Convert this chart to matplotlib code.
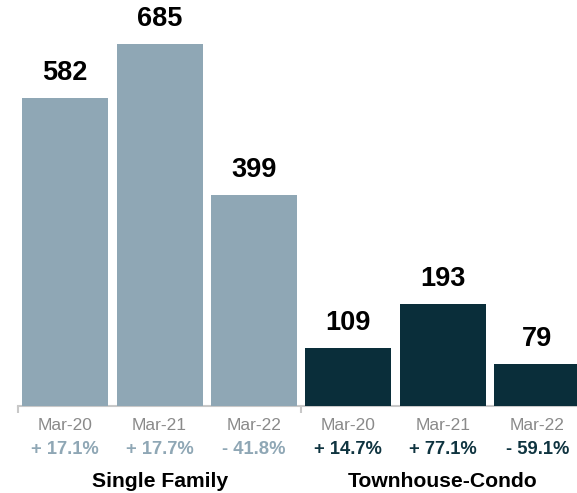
import numpy as np
import matplotlib.pyplot as plt

plt.rcParams['font.family'] = ['Liberation Sans', 'DejaVu Sans']

months = ["Mar-20", "Mar-21", "Mar-22", "Mar-20", "Mar-21", "Mar-22"]
values = [582, 685, 399, 109, 193, 79]
changes = ["+ 17.1%", "+ 17.7%", "- 41.8%", "+ 14.7%", "+ 77.1%", "- 59.1%"]
groups = ["Single Family", "Townhouse-Condo"]

sf_color = "#8FA7B5"
tc_color = "#0A2E3A"
colors = [sf_color] * 3 + [tc_color] * 3
change_colors = ["#8FA7B5"] * 3 + ["#0F3440"] * 3

fig = plt.figure(figsize=(5.77, 4.93), dpi=100)
ax = fig.add_axes([18 / 577, 87 / 493, 566.4 / 577, 406 / 493])

x = np.arange(len(values))
ax.bar(x, values, width=0.91, color=colors, zorder=2)
ax.set_xlim(-0.5, 5.5)
ax.set_ylim(0, 768)

for xi, v in zip(x, values):
    ax.annotate(str(v), xy=(xi, v), xytext=(0, 18), textcoords='offset pixels',
                ha='center', va='baseline', fontsize=19.5, fontweight='bold', color='black')

for xi, m, c, cc in zip(x, months, changes, change_colors):
    ax.annotate(m, xy=(xi, 0), xycoords=('data', 'axes fraction'), xytext=(0, -24),
                textcoords='offset pixels', ha='center', va='baseline',
                fontsize=12.5, color='#8a8a8a')
    ax.annotate(c, xy=(xi, 0), xycoords=('data', 'axes fraction'), xytext=(0, -48),
                textcoords='offset pixels', ha='center', va='baseline',
                fontsize=13.2, fontweight='bold', color=cc)

for gx, g in zip([1, 4], groups):
    ax.annotate(g, xy=(gx, 0), xycoords=('data', 'axes fraction'), xytext=(0, -81),
                textcoords='offset pixels', ha='center', va='baseline',
                fontsize=15.2, fontweight='bold', color='black')

for s in ['top', 'right', 'left']:
    ax.spines[s].set_visible(False)
ax.spines['bottom'].set_color('#c8c8c8')
ax.spines['bottom'].set_linewidth(1.5)
ax.spines['bottom'].set_zorder(1)

ax.set_yticks([])
ax.set_xticks([])
ax.set_xticks([-0.5, 2.5, 5.5], minor=True)
ax.tick_params(axis='x', which='minor', length=5, width=1.5, color='#c8c8c8')

fig.savefig("out.png", dpi=100)
